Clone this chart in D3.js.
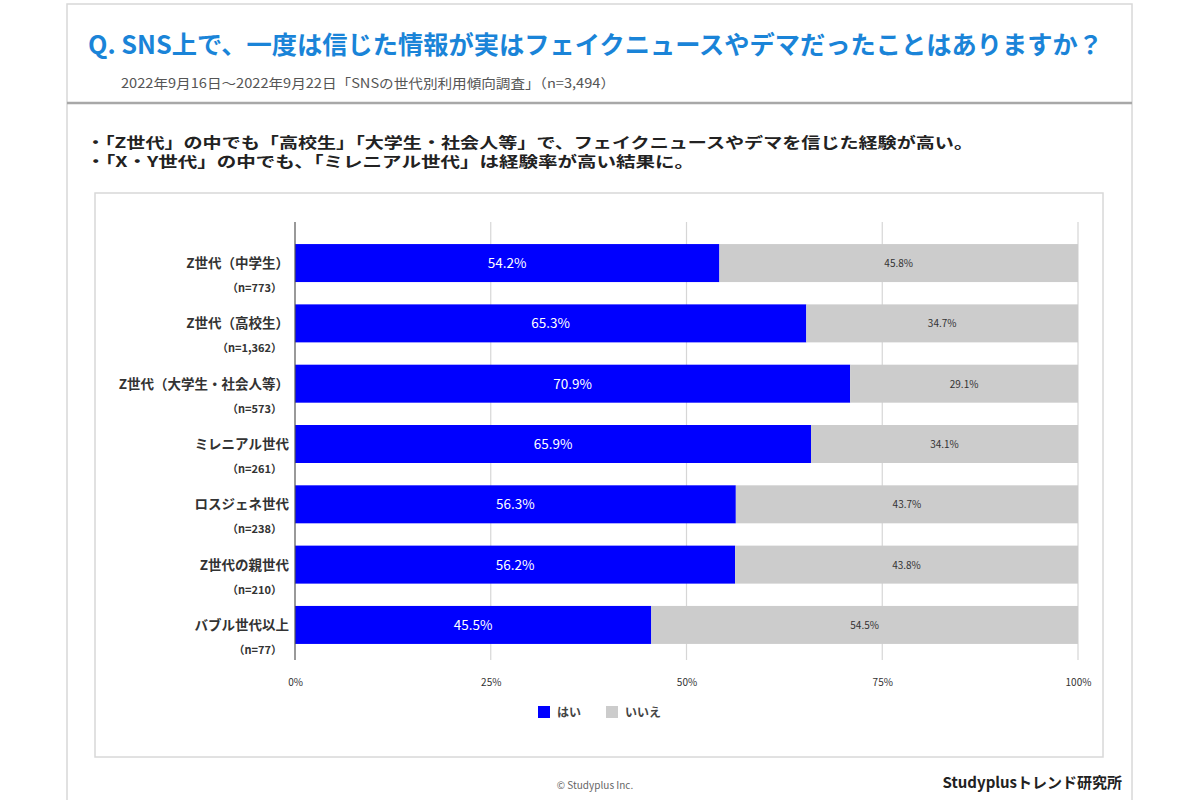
<!DOCTYPE html>
<html><head><meta charset="utf-8">
<script src="https://cdn.jsdelivr.net/npm/d3@7"></script>
<style>
body{margin:0;background:#fff;}
text{font-family:"Noto Sans CJK JP","Noto Sans",sans-serif;}
</style></head>
<body><svg id="c" width="1200" height="800"></svg>
<script>
const categories = ["Z世代（中学生）","Z世代（高校生）","Z世代（大学生・社会人等）","ミレニアル世代","ロスジェネ世代","Z世代の親世代","バブル世代以上"];
const sampleLabels = ["（n=773）","（n=1,362）","（n=573）","（n=261）","（n=238）","（n=210）","（n=77）"];
const yesValues = [54.2,65.3,70.9,65.9,56.3,56.2,45.5];
const noValues = [45.8,34.7,29.1,34.1,43.7,43.8,54.5];
const tickValues = [0,25,50,75,100];
const tickLabels = ["0%","25%","50%","75%","100%"];
const seriesNames = ["はい","いいえ"];
const seriesColors = ["#0000ff","#cccccc"];
const titleText = "Q. SNS上で、一度は信じた情報が実はフェイクニュースやデマだったことはありますか？";
const subtitleText = "2022年9月16日～2022年9月22日「SNSの世代別利用傾向調査」（n=3,494）";
const bullets = ["・「Z世代」の中でも「高校生」「大学生・社会人等」で、フェイクニュースやデマを信じた経験が高い。",
                 "・「X・Y世代」の中でも、「ミレニアル世代」は経験率が高い結果に。"];

const svg = d3.select("#c");
// outer card
svg.append("rect").attr("x",67).attr("y",4).attr("width",1065).attr("height",810)
  .attr("fill","#fff").attr("stroke","#d8d8d8").attr("stroke-width",1.5);
svg.append("line").attr("x1",67).attr("x2",1132).attr("y1",103).attr("y2",103)
  .attr("stroke","#a8a8a8").attr("stroke-width",2.5);
svg.append("text").attr("x",88).attr("y",54).attr("fill","#1a84d8")
  .attr("font-size",25).attr("font-weight","bold")
  .attr("textLength",1015).attr("lengthAdjust","spacingAndGlyphs").text(titleText);
svg.append("text").attr("x",121).attr("y",88).attr("fill","#555")
  .attr("font-size",13).attr("textLength",494).attr("lengthAdjust","spacingAndGlyphs").text(subtitleText);
const bl = [887, 608];
bullets.forEach((b,i)=>{
  svg.append("text").attr("x",86).attr("y",148+i*19).attr("fill","#222")
    .attr("font-size",15).attr("font-weight","bold")
    .attr("textLength",bl[i]).attr("lengthAdjust","spacingAndGlyphs").text(b);
});
// inner box
svg.append("rect").attr("x",95).attr("y",193).attr("width",1008).attr("height",564)
  .attr("fill","#fff").attr("stroke","#d8d8d8").attr("stroke-width",1.5);

const x = d3.scaleLinear().domain([0,100]).range([295,1078]);
const y = d3.scaleBand().domain(categories).range([232,656]).paddingInner(0.37).paddingOuter(0.2);

// grid
svg.append("g").selectAll("line").data(tickValues.slice(1)).join("line")
  .attr("x1",d=>x(d)).attr("x2",d=>x(d)).attr("y1",222).attr("y2",660)
  .attr("stroke","#d6d6d6").attr("stroke-width",1.2);

const rows = categories.map((c,i)=>({c,yes:yesValues[i],no:noValues[i],n:sampleLabels[i]}));
const g = svg.append("g");
g.selectAll("rect.yes").data(rows).join("rect").attr("class","yes")
  .attr("x",x(0)).attr("y",d=>y(d.c)).attr("width",d=>x(d.yes)-x(0)).attr("height",y.bandwidth())
  .attr("fill",seriesColors[0]);
g.selectAll("rect.no").data(rows).join("rect").attr("class","no")
  .attr("x",d=>x(d.yes)).attr("y",d=>y(d.c)).attr("width",d=>x(d.yes+d.no)-x(d.yes)).attr("height",y.bandwidth())
  .attr("fill",seriesColors[1]);
g.selectAll("text.yl").data(rows).join("text").attr("class","yl")
  .attr("x",d=>(x(0)+x(d.yes))/2).attr("y",d=>y(d.c)+y.bandwidth()/2+5)
  .attr("text-anchor","middle").attr("fill","#fff").attr("font-size",13.5)
  .text(d=>d.yes.toFixed(1)+"%");
g.selectAll("text.nl").data(rows).join("text").attr("class","nl")
  .attr("x",d=>(x(d.yes)+x(100))/2).attr("y",d=>y(d.c)+y.bandwidth()/2+4)
  .attr("text-anchor","middle").attr("fill","#333").attr("font-size",10)
  .text(d=>d.no.toFixed(1)+"%");

// axis line
svg.append("line").attr("x1",x(0)).attr("x2",x(0)).attr("y1",222).attr("y2",660)
  .attr("stroke","#555").attr("stroke-width",1.2);

// category labels
g.selectAll("text.cl").data(rows).join("text").attr("class","cl")
  .attr("x",289).attr("y",d=>y(d.c)+y.bandwidth()/2+5)
  .attr("text-anchor","end").attr("fill","#333").attr("font-size",13.5).attr("font-weight","bold")
  .text(d=>d.c);
g.selectAll("text.sl").data(rows).join("text").attr("class","sl")
  .attr("x",282).attr("y",d=>y(d.c)+y.bandwidth()/2+29)
  .attr("text-anchor","end").attr("fill","#333").attr("font-size",11).attr("font-weight","bold")
  .text(d=>d.n);

// x axis ticks
const ax = svg.append("g").attr("transform","translate(0,683)")
  .call(d3.axisBottom(x).tickValues(tickValues).tickFormat((d,i)=>tickLabels[i]).tickSize(0));
ax.select(".domain").remove();
ax.selectAll("text").attr("font-size",10).attr("fill","#333").attr("dy",0)
  .attr("font-family","'Noto Sans CJK JP',sans-serif");

// legend
const lg = svg.append("g").attr("transform","translate(538,706)");
const items = [{n:seriesNames[0],c:seriesColors[0],x:0},{n:seriesNames[1],c:seriesColors[1],x:68}];
items.forEach(it=>{
  lg.append("rect").attr("x",it.x).attr("y",0).attr("width",12).attr("height",12).attr("fill",it.c);
  lg.append("text").attr("x",it.x+19).attr("y",11).attr("font-size",12).attr("font-weight","bold").attr("fill","#444").text(it.n);
});

// footer
svg.append("text").attr("x",595).attr("y",789).attr("text-anchor","middle").attr("font-size",10)
  .attr("fill","#666").text("© Studyplus Inc.");
svg.append("text").attr("x",1122).attr("y",788).attr("text-anchor","end").attr("font-size",15)
  .attr("font-weight","bold").attr("fill","#222").text("Studyplusトレンド研究所");
</script></body></html>
